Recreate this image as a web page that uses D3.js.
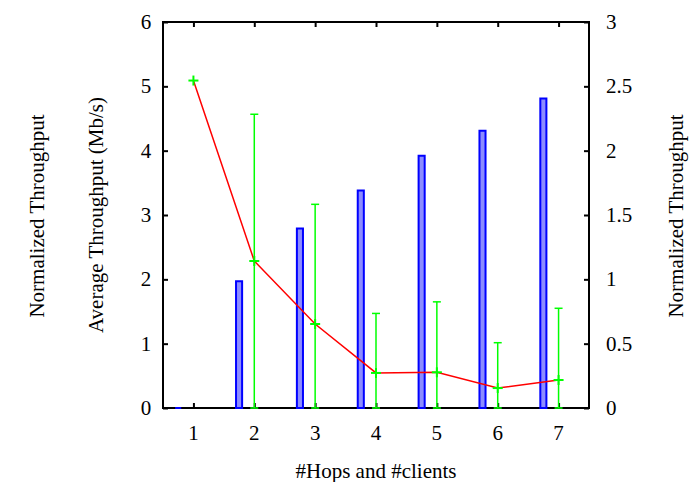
<!DOCTYPE html>
<html>
<head>
<meta charset="utf-8">
<script src="https://cdn.jsdelivr.net/npm/d3@7"></script>
<style>
  html, body { margin: 0; padding: 0; background: #fff; }
  svg text { font-family: "Liberation Serif", "Times New Roman", serif; fill: #000; }
</style>
</head>
<body>
<svg id="chart" width="699" height="482"></svg>
<script>
// Hop / client counts along the x axis
const hops = [1, 2, 3, 4, 5, 6, 7];
// Average throughput per configuration (bars, Mb/s)
const avgThroughput = [0, 1.97, 2.79, 3.38, 3.92, 4.31, 4.81];
// Mean of the line series and the ends of its error bar
const lineMean = [5.09, 2.285, 1.306, 0.545, 0.555, 0.31, 0.435];
const lineUpper = [5.09, 4.566, 3.166, 1.47, 1.65, 1.015, 1.55];
const lineLower = [5.09, 0, 0, 0, 0, 0, 0];
// Tick labels
const leftTicks = [0, 1, 2, 3, 4, 5, 6];
const rightTicks = [0, 0.5, 1, 1.5, 2, 2.5, 3];

const svg = d3.select("#chart");
const m = { left: 163, right: 589, top: 22, bottom: 408 };

const x = d3.scaleLinear().domain([0.5, 7.5]).range([m.left, m.right]);
const y = d3.scaleLinear().domain([0, 6]).range([m.bottom, m.top]);
const y2 = d3.scaleLinear().domain([0, 3]).range([m.bottom, m.top]);

const barOffset = -0.25, barWidth = 0.1;
const fs = 21;

// Axes with inward ticks on all sides
const tickLen = 5;
const axL = svg.append("g").attr("transform", `translate(${m.left},0)`)
  .call(d3.axisRight(y).tickValues(leftTicks).tickSize(tickLen).tickFormat(""));
const axR = svg.append("g").attr("transform", `translate(${m.right},0)`)
  .call(d3.axisLeft(y2).tickValues(rightTicks).tickSize(tickLen).tickFormat(""));
const axB = svg.append("g").attr("transform", `translate(0,${m.bottom})`)
  .call(d3.axisTop(x).tickValues(hops).tickSize(tickLen).tickFormat(""));
const axT = svg.append("g").attr("transform", `translate(0,${m.top})`)
  .call(d3.axisBottom(x).tickValues(hops).tickSize(tickLen).tickFormat(""));
[axL, axR, axB, axT].forEach(a => {
  a.select(".domain").remove();
  a.selectAll(".tick line").attr("stroke", "#000").attr("stroke-width", 2);
});

// Frame
svg.append("rect")
  .attr("x", m.left).attr("y", m.top)
  .attr("width", m.right - m.left).attr("height", m.bottom - m.top)
  .attr("fill", "none").attr("stroke", "#000").attr("stroke-width", 2);

// Bars drawn as closed paths so a zero-height bar still shows its outline
svg.append("g").selectAll("path").data(hops).join("path")
  .attr("d", (d, i) => {
    const p = d3.path();
    const x0 = x(d + barOffset - barWidth / 2), x1 = x(d + barOffset + barWidth / 2);
    p.moveTo(x0, y(0));
    p.lineTo(x0, y(avgThroughput[i]));
    p.lineTo(x1, y(avgThroughput[i]));
    p.lineTo(x1, y(0));
    p.closePath();
    return p.toString();
  })
  .attr("fill", "#8c8cff")
  .attr("stroke", "#0000ff")
  .attr("stroke-width", 2);

// Error bars
const eb = svg.append("g").attr("stroke", "#00ff00").attr("stroke-width", 1.5);
hops.forEach((h, i) => {
  if (lineUpper[i] === lineLower[i]) return;
  const cx = x(h);
  eb.append("line").attr("x1", cx).attr("x2", cx)
    .attr("y1", y(lineLower[i])).attr("y2", y(lineUpper[i]));
  eb.append("line").attr("x1", cx - 4).attr("x2", cx + 4)
    .attr("y1", y(lineUpper[i])).attr("y2", y(lineUpper[i]));
  eb.append("line").attr("x1", cx - 4).attr("x2", cx + 4)
    .attr("y1", y(lineLower[i])).attr("y2", y(lineLower[i]));
});

// Mean line
const line = d3.line().x((d, i) => x(hops[i])).y(d => y(d));
svg.append("path").datum(lineMean)
  .attr("d", line)
  .attr("fill", "none")
  .attr("stroke", "#ff0000")
  .attr("stroke-width", 1.5);

// Point markers
const pm = svg.append("g").attr("stroke", "#00ff00").attr("stroke-width", 2);
hops.forEach((h, i) => {
  const cx = x(h), cy = y(lineMean[i]);
  pm.append("line").attr("x1", cx - 5).attr("x2", cx + 5).attr("y1", cy).attr("y2", cy);
  pm.append("line").attr("x1", cx).attr("x2", cx).attr("y1", cy - 5).attr("y2", cy + 5);
});

// Tick labels
svg.append("g").selectAll("text").data(leftTicks).join("text")
  .attr("x", 146).attr("y", d => y(d)).attr("dy", "0.33em")
  .attr("text-anchor", "middle").attr("font-size", fs).text(d => d);
svg.append("g").selectAll("text").data(rightTicks).join("text")
  .attr("x", 606).attr("y", d => y2(d)).attr("dy", "0.33em")
  .attr("text-anchor", "start").attr("font-size", fs).text(d => d);
svg.append("g").selectAll("text").data(hops).join("text")
  .attr("x", d => x(d)).attr("y", 433).attr("dy", "0.33em")
  .attr("text-anchor", "middle").attr("font-size", fs).text(d => d);

// Axis titles
svg.append("text").attr("x", 376).attr("y", 471).attr("dy", "0.33em")
  .attr("text-anchor", "middle").attr("font-size", fs).text("#Hops and #clients");
svg.append("text").attr("transform", "translate(37,216) rotate(-90)")
  .attr("dy", "0.33em").attr("text-anchor", "middle").attr("font-size", fs)
  .text("Normalized Throughput");
svg.append("text").attr("transform", "translate(96,215) rotate(-90)")
  .attr("dy", "0.33em").attr("text-anchor", "middle").attr("font-size", fs)
  .text("Average Throughput (Mb/s)");
svg.append("text").attr("transform", "translate(676,216) rotate(-90)")
  .attr("dy", "0.33em").attr("text-anchor", "middle").attr("font-size", fs)
  .text("Normalized Throughput");
</script>
</body>
</html>
